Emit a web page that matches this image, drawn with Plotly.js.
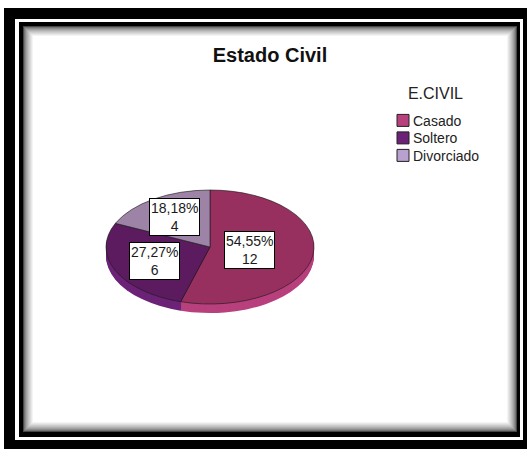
<!DOCTYPE html>
<html><head><meta charset="utf-8">
<script src="https://cdn.plot.ly/plotly-3.0.1.min.js"></script>
<style>html,body{margin:0;padding:0;background:#fff;overflow:hidden;} #chart{width:527px;height:449px;}</style>
</head><body><div id="chart"></div>
<script>
// ---- data ----
const categories = ['Casado', 'Soltero', 'Divorciado'];
const counts = [12, 6, 4];
const faceColors = ['#98305f', '#5b1b5e', '#9d84a6'];
const sideColors = ['#b8407d', '#6c2377', '#b9a1cf'];
const chartTitle = 'Estado Civil';
const legendTitle = 'E.CIVIL';

// ---- geometry / style ----
const W = 527, H = 449;
const CX = 210, CY = 247, RX = 104, RY = 57, DEPTH = 9;
const S = RY / RX;
const FONT = '"Liberation Sans", Arial, sans-serif';
const px = x => x / W;
const py = y => 1 - y / H;
const domain = {x: [px(CX - RX), px(CX + RX)], y: [py(CY + RX), py(CY - RX)]};

function pieTrace(colors, lineW, showLegend) {
  return {type: 'pie', labels: categories, values: counts, sort: false,
    direction: 'clockwise', rotation: 0, domain: domain,
    marker: {colors: colors, line: {color: '#1a1a1a', width: lineW}},
    textinfo: 'none', hoverinfo: 'skip', showlegend: showLegend};
}
const traces = [];
for (let k = DEPTH; k >= 1; k--) traces.push(pieTrace(sideColors, 0, k === DEPTH));
traces.push(pieTrace(faceColors, 0.8, false));

// labels at the centroid of each (elliptical) sector
const total = counts.reduce((a, b) => a + b, 0);
let start = 0;
const annotations = counts.map((v, i) => {
  const th = v / total * 2 * Math.PI;
  const mid = start + th / 2; start += th;
  const c = 4 * Math.sin(th / 2) / (3 * th);
  const x = CX + RX * c * Math.sin(mid), y = CY - RY * c * Math.cos(mid);
  const pct = (v / total * 100).toFixed(2).replace('.', ',') + '%';
  return {xref: 'paper', yref: 'paper', x: px(x), y: py(y), xanchor: 'center', yanchor: 'middle',
    showarrow: false, text: pct + '<br>' + v, align: 'center', bgcolor: '#ffffff',
    bordercolor: '#000000', borderwidth: 1, borderpad: 1,
    font: {family: FONT, size: 14, color: '#1a1a1a'}};
});

// frame
function rect(x0, y0, x1, y1, color) {
  return {type: 'rect', xref: 'paper', yref: 'paper', x0: px(x0), x1: px(x1), y0: py(y1), y1: py(y0),
    fillcolor: color, line: {width: 0}, layer: 'below'};
}
const shapes = [rect(4, 8, W + 6, H + 6, '#000'), rect(15, 19, 523, 440, '#fff'), rect(19, 22, 520, 437, '#000')];
for (let i = 0; i < 11; i++) {
  const g = Math.round(70 + (255 - 70) * Math.pow(i / 10, 0.6));
  shapes.push(rect(23 + i, 26 + i, 517 - i, 432 - i, `rgb(${g},${g},${g})`));
}

const layout = {
  width: W, height: H, margin: {l: 0, r: 0, t: 0, b: 0, pad: 0},
  paper_bgcolor: '#ffffff', separators: ',.',
  font: {family: FONT, color: '#222'},
  title: {text: chartTitle, font: {family: FONT, size: 20, weight: 'bold', color: '#111'},
    x: px(270), xref: 'paper', xanchor: 'center', y: py(55), yref: 'paper', yanchor: 'middle'},
  legend: {x: px(373), xanchor: 'left', y: py(78), yanchor: 'top', bgcolor: 'rgba(0,0,0,0)',
    font: {family: FONT, size: 14, color: '#222'}, traceorder: 'normal',
    title: {text: legendTitle, font: {family: FONT, size: 16, color: '#222'}, side: 'top center'}},
  shapes: shapes, annotations: annotations
};

function prependTransform(el, t) {
  el.setAttribute('transform', t + ' ' + (el.getAttribute('transform') || ''));
}

Plotly.newPlot('chart', traces, layout, {staticPlot: true, displayModeBar: false}).then(gd => {
  const groups = gd.querySelectorAll('.pielayer .trace');
  groups.forEach((g, idx) => {
    const k = idx < DEPTH ? DEPTH - idx : 0;
    const cy = (gd.calcdata[idx] && gd.calcdata[idx][0].cy) || CY;
    g.setAttribute('transform', `translate(0,${cy * (1 - S) + k}) scale(1,${S})`);
  });
  // legend fine-tuning: swatch closer to text, tighter rows
  const items = gd.querySelectorAll('.legend .traces');
  let y0 = null;
  items.forEach((it, i) => {
    const m = (it.getAttribute('transform') || '').match(/translate\(\s*([-\d.e]+)[ ,]+([-\d.e]+)\s*\)/);
    if (m) {
      const x = parseFloat(m[1]), y = parseFloat(m[2]);
      if (y0 === null) y0 = y;
      it.setAttribute('transform', `translate(${x},${y0 + 6 + i * 17.5})`);
    }
    const p = it.querySelector('.legendpoints');
    if (p) prependTransform(p, 'translate(10,0)');
  });
  gd.querySelectorAll('.legend .legendpoints path').forEach(p => {
    p.style.stroke = '#222'; p.style.strokeWidth = '1px';
  });
  const lt = gd.querySelector('.legend .legendtitletext');
  if (lt) prependTransform(lt, 'translate(6.5,0)');
});
</script></body></html>
